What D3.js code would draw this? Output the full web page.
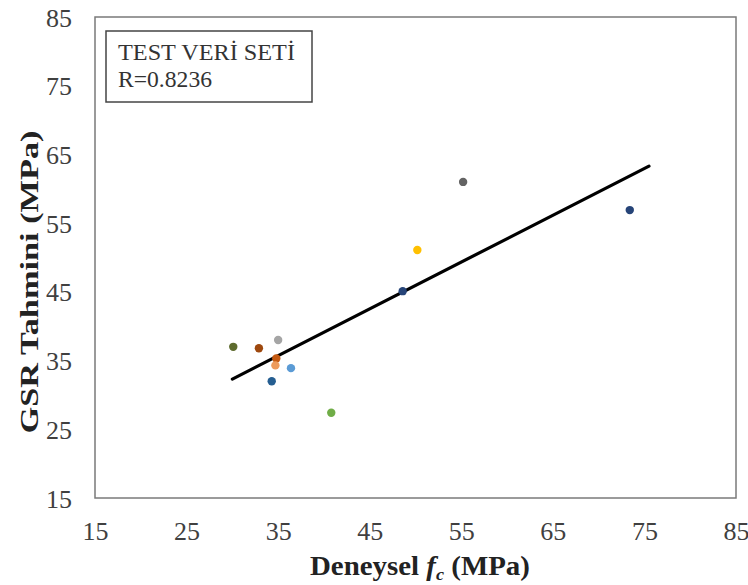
<!DOCTYPE html>
<html><head><meta charset="utf-8">
<script src="https://cdn.jsdelivr.net/npm/d3@7"></script>
<style>body{margin:0;background:#fff} svg text{font-family:"Liberation Serif","DejaVu Serif",serif}</style>
</head><body>
<svg id="c" width="748" height="585"></svg>
<script>
const xTicks = [15,25,35,45,55,65,75,85];
const yTicks = [15,25,35,45,55,65,75,85];
const expVals  = [30.1, 32.9, 35.0, 34.8, 34.7, 36.4, 34.3, 40.8, 48.6, 50.2, 55.2, 73.4];
const predVals = [37.0, 36.8, 38.0, 35.3, 34.3, 33.9, 32.0, 27.4, 45.1, 51.1, 61.0, 56.9];
const pointColors = ["#5E6B2E","#9E480E","#A5A5A5","#C55A11","#ED9B5C","#5B9BD5","#255E91","#70AD47","#264478","#FFC000","#636363","#264478"];
const fitX = [30.0, 75.5];
const fitY = [32.3, 63.3];
const legendLines = ["TEST VERİ SETİ", "R=0.8236"];

const svg = d3.select("#c");
const L=95, R=736, T=17, B=498;
const x = d3.scaleLinear().domain([15,85]).range([L,R]);
const y = d3.scaleLinear().domain([15,85]).range([B,T]);

function fitWidth(sel, target){
  const w = sel.node().getComputedTextLength();
  return target / w;
}

svg.append("rect").attr("x",L).attr("y",T).attr("width",R-L).attr("height",B-T)
  .attr("fill","none").attr("stroke","#7a7a7a").attr("stroke-width",1.5);

const xa = svg.append("g").attr("transform",`translate(0,${B})`)
  .call(d3.axisBottom(x).tickValues(xTicks).tickSize(0).tickPadding(24).tickFormat(d3.format("d")));
xa.select(".domain").remove();
xa.attr("font-family",null).attr("font-size",null);
xa.selectAll("text").style("font-size","26px").attr("fill","#404040");
const ya = svg.append("g").attr("transform",`translate(${L},0)`)
  .call(d3.axisLeft(y).tickValues(yTicks).tickSize(0).tickPadding(23).tickFormat(d3.format("d")));
ya.select(".domain").remove();
ya.attr("font-family",null).attr("font-size",null);
ya.selectAll("text").style("font-size","26px").attr("fill","#404040").attr("dy","0.35em");

svg.append("line").attr("x1",x(fitX[0])).attr("y1",y(fitY[0])).attr("x2",x(fitX[1])).attr("y2",y(fitY[1]))
  .attr("stroke","#000").attr("stroke-width",3.2).attr("stroke-linecap","round");

svg.append("g").selectAll("circle").data(expVals).join("circle")
  .attr("cx",(d)=>x(d)).attr("cy",(d,i)=>y(predVals[i])).attr("r",4.2)
  .attr("fill",(d,i)=>pointColors[i]);

svg.append("rect").attr("x",106).attr("y",31).attr("width",206).attr("height",71)
  .attr("fill","#fff").attr("stroke","#444").attr("stroke-width",1.5);
const legTargets = [177, 94];
svg.append("g").selectAll("text").data(legendLines).join("text")
  .attr("x",118).attr("y",(d,i)=>60+i*27).text(d=>d)
  .style("font-size","23px").attr("fill","#333")
  .attr("textLength",(d,i)=>legTargets[i]).attr("lengthAdjust","spacingAndGlyphs");

const xt = svg.append("text").attr("text-anchor","start")
  .style("font-size","27px").attr("font-weight","bold").attr("fill","#222");
xt.append("tspan").text("Deneysel ");
xt.append("tspan").attr("font-style","italic").text("f");
xt.append("tspan").attr("font-style","italic").style("font-size","17px").attr("dy",5).text("c");
xt.append("tspan").attr("dy",-5).text(" (MPa)");
const xw = xt.node().getComputedTextLength();
const sx = 220 / xw;
xt.attr("transform",`translate(310,575) scale(${sx},1)`);

const yt = svg.append("text").attr("text-anchor","middle")
  .style("font-size","26px").attr("font-weight","bold").attr("fill","#222")
  .text("GSR Tahmini (MPa)");
const sy = fitWidth(yt, 303);
yt.attr("transform",`translate(38,282) rotate(-90) scale(${sy},1)`);
</script>
</body></html>
